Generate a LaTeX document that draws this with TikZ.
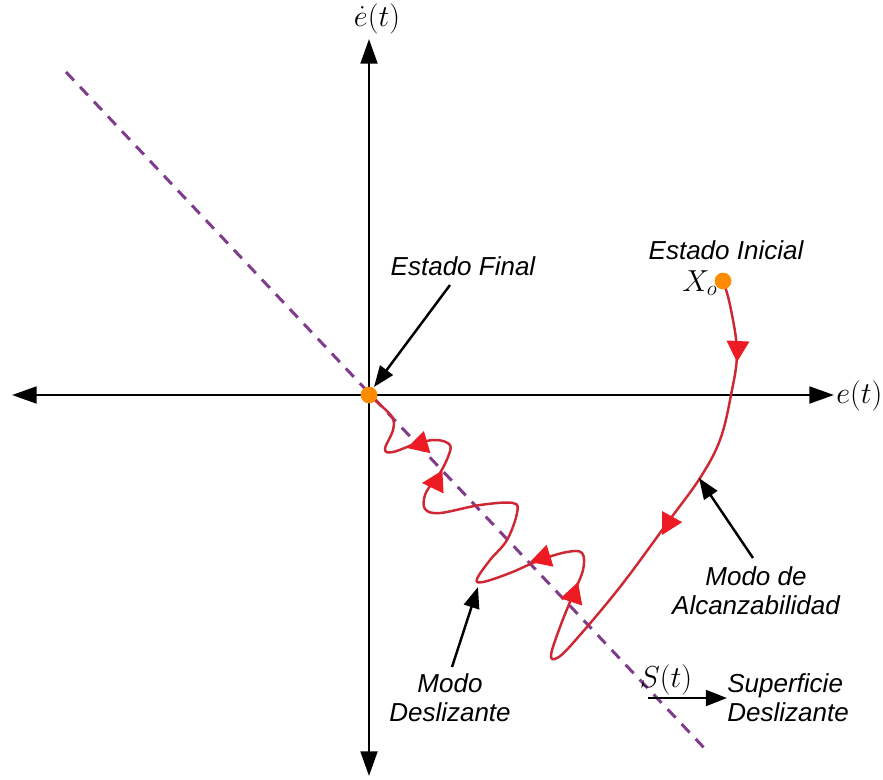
\documentclass[tikz,border=0pt]{standalone}
\usepackage{amsmath}
\usepackage[no-math]{fontspec}
\setmainfont{Liberation Sans}
\usetikzlibrary{arrows.meta, positioning}

\definecolor{dotorange}{RGB}{255,140,0}
\definecolor{slidepurple}{RGB}{128,60,140}
\definecolor{pathred}{RGB}{205,40,52}
\definecolor{tipred}{RGB}{237,28,36}

% filled flow head: tip point, visual angle
\newcommand{\flowhead}[2]{%
  \fill[tipred, shift={(#1)}, rotate=#2] (0,0) -- (-21,-11.5) -- (-21,11.5) -- cycle;}

\begin{document}
\begin{tikzpicture}[x=0.02cm, y=-0.02cm,
    lbl/.style={font=\fontsize{14.8}{16.5}\selectfont\itshape, inner sep=0pt, align=center},
    mlbl/.style={font=\fontsize{17}{20}\selectfont, inner sep=0pt},
    dot/.style={circle, fill=dotorange, inner sep=0pt, minimum size=0.33cm},
    axisline/.style={line width=1.6pt,
      {Triangle[length=14pt, width=9.5pt]}-{Triangle[length=14pt, width=9.5pt]}},
    pointer/.style={line width=1.4pt, -{Triangle[length=12pt, width=9pt]}}]
  \useasboundingbox (0,0) rectangle (883,779);

  % Axes
  \coordinate (xl) at (12,395);
  \coordinate (xr) at (834,395);
  \coordinate (yt) at (369,39);
  \coordinate (yb) at (369,776);
  \draw[axisline] (xl) -- (xr);
  \draw[axisline] (yb) -- (yt);
  \node[mlbl, anchor=west] (elbl) at (836,396) {$e(t)$};
  \node[mlbl] (edotlbl) at (377,19) {$\dot{e}(t)$};

  % Sliding surface S(t)
  \coordinate (stop) at (66,72);
  \coordinate (sbot) at (708,752);
  \draw[slidepurple, line width=1.7pt, dash pattern=on 6.6pt off 5pt] (stop) -- (sbot);

  % States
  \node[dot] (fin) at (369,395) {};
  \node[dot] (ini) at (723,281) {};

  % Trajectory: reaching mode, then sliding along S(t)
  \draw[pathred, line width=1.4pt]
    plot[smooth, tension=0.6] coordinates {
      (ini.center) (730,305) (737,352) (731,395) (720,440) (700,478)
      (668,522) (620,587) (573,643) (557,658) (551,655) (560,627)
      (572,597) (583,570) (582,553) (567,552) (540,560) (510,573)
      (483,582) (477,579) (490,560) (507,540) (517,513) (513,503)
      (480,505) (440,513) (425,509) (425,495) (433,482) (440,473)
      (448,457) (450,445) (437,440) (418,443) (393,452) (385,449)
      (393,430) (392,417) (377,402) (fin.center)};
  \flowhead{737,362}{-92.6}
  \flowhead{662,535}{-118.8}
  \flowhead{578,582}{71.6}
  \flowhead{530,562}{-162.5}
  \flowhead{422,483}{-177}
  \flowhead{407,448}{-163.6}
  \node[dot] at (fin) {};
  \node[dot] at (ini) {};

  % Labels and pointers
  \node[lbl] (inilbl) at (726,250) {Estado Inicial};
  \node[mlbl] (xolbl) at (700,283) {$X_o$};

  \node[lbl] (finlbl) at (463,266) {Estado Final};
  \coordinate (finfrom) at (450,285);
  \coordinate (finto) at (374,387);
  \draw[pointer] (finfrom) -- (finto);

  \node[lbl] (reachlbl) at (756,591) {Modo de\\Alcanzabilidad};
  \coordinate (reachfrom) at (753,558);
  \coordinate (reachto) at (699,478);
  \draw[pointer] (reachfrom) -- (reachto);

  \node[lbl] (slidelbl) at (450,698) {Modo\\Deslizante};
  \coordinate (slidefrom) at (452,667);
  \coordinate (slideto) at (478,587);
  \draw[pointer] (slidefrom) -- (slideto);

  \node[mlbl] (slbl) at (666,680) {$S(t)$};
  \node[lbl, align=left, anchor=west] (surflbl) at (727,698) {Superficie\\Deslizante};
  \coordinate (sfrom) at (648,698);
  \draw[pointer] (sfrom) -- (surflbl.west);
\end{tikzpicture}
\end{document}
